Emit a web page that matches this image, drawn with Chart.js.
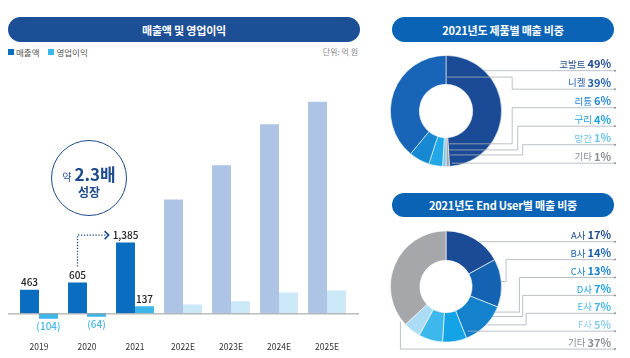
<!DOCTYPE html>
<html>
<head>
<meta charset="utf-8">
<script src="https://cdn.jsdelivr.net/npm/chart.js@4/dist/chart.umd.min.js"></script>
<style>
body { margin: 0; width: 630px; height: 358px; background: #fff; position: relative; overflow: hidden;
  font-family: "Noto Sans CJK KR", "Noto Sans", sans-serif; }
canvas { position: absolute; }
.pill { position: absolute; color: #fff; font-weight: 700; font-size: 11px; display: flex;
  align-items: center; justify-content: center; border-radius: 13px; letter-spacing: -0.2px; }
.legend { position: absolute; top: 46px; left: 8px; font-size: 8.5px; color: #555; display: flex; align-items: center; }
.legend i { display: inline-block; width: 6px; height: 6px; margin-right: 2px; }
.unit { position: absolute; top: 46px; right: 272px; font-size: 8px; color: #888; }
.badge { position: absolute; left: 51px; top: 140px; width: 74px; height: 74px; border: 1.8px solid #1d4a8c;
  border-radius: 50%; color: #1d4a8c; text-align: center; }
.badge .l1 { position: absolute; top: 23px; left: 0; right: 0; font-weight: 700; font-size: 17px; line-height: 20px; }
.badge .l1 small { font-size: 10px; font-weight: 400; margin-right: 3px; }
.badge .l2 { position: absolute; top: 43px; left: 0; right: 0; font-weight: 700; font-size: 12px; line-height: 16px; }
</style>
</head>
<body>
<div class="pill" style="left:8px;top:17px;width:352px;height:25px;background:#1d4f97">매출액 및 영업이익</div>
<div class="legend"><i style="background:#0b6dbf"></i>매출액<i style="background:#3cb6ea;margin-left:9px"></i>영업이익</div>
<div class="unit">단위: 억 원</div>
<div class="pill" style="left:392px;top:17px;width:222px;height:25px;background:#0b63b6">2021년도 제품별 매출 비중</div>
<div class="pill" style="left:392px;top:193px;width:222px;height:24px;background:#0b63b6">2021년도 End User별 매출 비중</div>

<canvas id="bar" width="370" height="358" style="left:0;top:0"></canvas>
<canvas id="prod" width="245" height="125" style="left:385px;top:50px"></canvas>
<canvas id="user" width="245" height="130" style="left:385px;top:225px"></canvas>

<div class="badge"><div class="l1"><small>약</small>2.3배</div><div class="l2">성장</div></div>

<script>
const years = ['2019', '2020', '2021', '2022E', '2023E', '2024E', '2025E'];
const sales = [463, 605, 1385, 2230, 2900, 3700, 4140];
const profit = [-104, -64, 137, 176, 235, 410, 450];
const actualYears = 3;

const productNames = ['코발트', '니켈', '리튬', '구리', '망간', '기타'];
const productShares = [49, 39, 6, 4, 1, 1];
// clockwise drawing order of the slices, by index into productNames
const productOrder = [0, 5, 4, 3, 2, 1];

const userNames = ['A사', 'B사', 'C사', 'D사', 'E사', 'F사', '기타'];
const userShares = [17, 14, 13, 7, 7, 5, 37];

const FONT = '"Noto Sans CJK KR", "Noto Sans", sans-serif';

// value labels above / below the actual-year bars, and the dotted growth arrow
const barLabels = {
	id: 'barLabels',
	afterDatasetsDraw(chart) {
		const ctx = chart.ctx;
		const s = chart.getDatasetMeta(0).data;
		const p = chart.getDatasetMeta(1).data;
		ctx.save();
		ctx.textAlign = 'center';
		ctx.textBaseline = 'middle';
		ctx.font = '500 10px ' + FONT;
		for (let i = 0; i < actualYears; i++) {
			ctx.fillStyle = '#222';
			ctx.fillText(sales[i].toLocaleString('en-US'), s[i].x, s[i].y - 7.5);
			if (profit[i] < 0) {
				ctx.fillStyle = '#45b8e8';
				ctx.fillText('(' + Math.abs(profit[i]) + ')', p[i].x, p[i].y + 8);
			} else {
				ctx.fillStyle = '#222';
				ctx.fillText(profit[i].toLocaleString('en-US'), p[i].x, p[i].y - 7.5);
			}
		}
		// arrow from 2020 label to 2021 label
		const from = s[1], to = s[2];
		const topY = to.y - 7.5;
		const tipX = to.x - ctx.measureText(sales[2].toLocaleString('en-US')).width / 2 - 4;
		ctx.strokeStyle = '#1d4a8c';
		ctx.lineWidth = 1.3;
		ctx.setLineDash([1.3, 1.6]);
		ctx.beginPath();
		ctx.moveTo(from.x, from.y - 16);
		ctx.lineTo(from.x, topY);
		ctx.lineTo(tipX - 2, topY);
		ctx.stroke();
		ctx.setLineDash([]);
		ctx.lineWidth = 1.6;
		ctx.beginPath();
		ctx.moveTo(tipX - 4, topY - 4);
		ctx.lineTo(tipX, topY);
		ctx.lineTo(tipX - 4, topY + 4);
		ctx.stroke();
		// zero line
		const y0 = chart.scales.y.getPixelForValue(0);
		ctx.strokeStyle = '#9a9a9a';
		ctx.lineWidth = 1;
		ctx.beginPath();
		ctx.moveTo(chart.chartArea.left - 7, y0 + 0.5);
		ctx.lineTo(chart.chartArea.right + 8, y0 + 0.5);
		ctx.stroke();
		ctx.restore();
	}
};

new Chart(document.getElementById('bar'), {
	type: 'bar',
	data: {
		labels: years,
		datasets: [
			{ label: '매출액', data: sales, backgroundColor: years.map((y, i) => i < actualYears ? '#0b6dbf' : '#adc4e5') },
			{ label: '영업이익', data: profit, backgroundColor: years.map((y, i) => i < actualYears ? '#3cb6ea' : '#cae8f8') }
		]
	},
	options: {
		responsive: false,
		animation: false,
		layout: { padding: { left: 15, right: 19, top: 90, bottom: 3 } },
		datasets: { bar: { categoryPercentage: 0.79, barPercentage: 1 } },
		plugins: { legend: { display: false }, tooltip: { enabled: false } },
		scales: {
			x: {
				grid: { display: false },
				border: { display: false },
				ticks: { color: '#333', font: { size: 8.5, family: FONT }, padding: 3 }
			},
			y: { display: false, min: -341, max: 4371 }
		}
	},
	plugins: [barLabels]
});

// leader lines and right-hand labels of a doughnut
const leaders = {
	id: 'leaders',
	afterDraw(chart, args, o) {
		const ctx = chart.ctx;
		const a = chart.getDatasetMeta(0).data[0];
		const cx = a.x, cy = a.y, R = a.outerRadius;
		ctx.save();
		o.names.forEach((name, i) => {
			const ly = cy + o.first + i * o.step;
			const r = o.routes[i];
			const endX = cx + o.end;
			ctx.strokeStyle = '#a9b0b8';
			ctx.lineWidth = 0.8;
			ctx.beginPath();
			if (!r) {
				ctx.moveTo(cx + Math.sqrt(Math.max(0, R * R - (ly - cy) ** 2)), ly);
			} else {
				const sx = cx + r[0] * R, sy = cy + r[1] * R, ex = cx + r[2] * R;
				ctx.moveTo(sx, sy);
				ctx.lineTo(ex, sy);
				ctx.lineTo(ex, ly);
			}
			ctx.lineTo(endX, ly);
			ctx.stroke();
			ctx.fillStyle = '#8a9098';
			ctx.beginPath();
			ctx.arc(endX, ly, 1, 0, Math.PI * 2);
			ctx.fill();

			const tx = cx + o.end - 4, ty = ly - 6.5;
			const pct = o.values[i] + '%';
			ctx.textBaseline = 'middle';
			ctx.textAlign = 'right';
			ctx.fillStyle = o.textColors[i];
			ctx.font = '600 11px ' + FONT;
			ctx.fillText(pct, tx, ty);
			const w = ctx.measureText(pct).width;
			ctx.font = '400 9.5px ' + FONT;
			ctx.fillText(name, tx - w - 2, ty);
		});
		ctx.restore();
	}
};

const productColors = ['#1b4b96', '#1865b8', '#1789d3', '#22a8e6', '#7cc8ee', '#a3a7ab'];
const productText = ['#1f4a8c', '#2060ab', '#2a88cf', '#1a9fe0', '#6cc3ec', '#8a8f94'];

new Chart(document.getElementById('prod'), {
	type: 'doughnut',
	data: {
		labels: productOrder.map(i => productNames[i]),
		datasets: [{
			data: productOrder.map(i => productShares[i]),
			backgroundColor: productOrder.map(i => productColors[i]),
			borderColor: 'rgba(255,255,255,0.7)',
			borderWidth: 0.8
		}]
	},
	options: {
		responsive: false,
		animation: false,
		cutout: '48%',
		layout: { padding: { left: 5, right: 128, top: 5, bottom: 8 } },
		plugins: {
			legend: { display: false },
			tooltip: { enabled: false },
			leaders: {
				names: productNames, values: productShares, textColors: productText,
				first: -40.3, step: 18.5, end: 169,
				routes: [null, [0.02, -0.61, 1.19], [0.03, 0.59, 1.19], [0.05, 0.70, 1.29], [0.08, 0.79, 1.38], [0.11, 0.93, 0.11]]
			}
		}
	},
	plugins: [leaders]
});

const userColors = ['#1b4b96', '#1463b3', '#1481cc', '#13a3e6', '#3db8ec', '#aadcf5', '#a5a7aa'];
const userText = ['#1f4a8c', '#1a5fae', '#1a80cc', '#1a9fe2', '#45b6ea', '#8fcdf0', '#8a8f94'];

new Chart(document.getElementById('user'), {
	type: 'doughnut',
	data: {
		labels: userNames,
		datasets: [{
			data: userShares,
			backgroundColor: userColors,
			borderColor: 'rgba(255,255,255,0.8)',
			borderWidth: 0.8
		}]
	},
	options: {
		responsive: false,
		animation: false,
		cutout: '47%',
		layout: { padding: { left: 5, right: 128, top: 5.5, bottom: 12.5 } },
		plugins: {
			legend: { display: false },
			tooltip: { enabled: false },
			leaders: {
				names: userNames, values: userShares, textColors: userText,
				first: -44.8, step: 17.9, end: 169,
				routes: [null, [0.99, -0.09, 1.08], [0.88, 0.46, 1.32], [0.84, 0.54, 1.38], [0.74, 0.69, 1.44], [0.4, 0.79, 0.4], [-0.82, 0.63, -0.82]]
			}
		}
	},
	plugins: [leaders]
});
</script>
</body>
</html>
